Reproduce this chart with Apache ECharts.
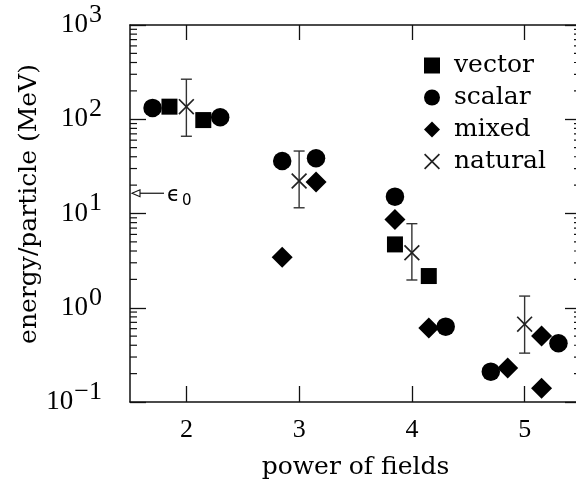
<!DOCTYPE html>
<html><head><meta charset="utf-8">
<script src="https://cdn.jsdelivr.net/npm/echarts@6/dist/echarts.min.js"></script>
<style>html,body{margin:0;padding:0;background:#fff}#c{width:576px;height:483px}</style>
</head><body><div id="c"></div>
<script>
// ---- data ----
const xTicks = [2, 3, 4, 5];
const yTicks = [0.1, 1, 10, 100, 1000];
const minorMantissas = [2, 3, 4, 5, 6, 7, 8, 9];
const minorDecades = [0.1, 1, 10, 100];

const vectorX = [1.85, 2.15, 3.85, 4.15];
const vectorY = [136, 98, 4.7, 2.17];
const scalarX = [1.7, 2.3, 2.85, 3.15, 3.85, 4.3, 4.7, 5.3];
const scalarY = [132, 105, 36, 38.5, 15.1, 0.63, 0.21, 0.42];
const mixedX = [2.85, 3.15, 3.85, 4.15, 4.85, 5.15, 5.15];
const mixedY = [3.43, 21.6, 8.66, 0.61, 0.23, 0.50, 0.14];
const naturalX = [2, 3, 4, 5];
const naturalY = [136, 22.1, 3.84, 0.67];
const naturalLo = [66, 11.5, 1.97, 0.33];
const naturalHi = [266, 46, 7.8, 1.33];
const eps0 = 16.4;
const xMin = 1.5, xMax = 5.5, yMin = 0.1, yMax = 1000;

// ---- build ----
const serifW = 'DejaVu Serif';
const serifN = 'Liberation Serif';
const ink = '#111';
const pts = (xs, ys) => xs.map((x, i) => [x, ys[i]]);
const minorVals = [];
minorDecades.forEach(d => minorMantissas.forEach(m => minorVals.push([xMin, +(d * m).toPrecision(3)])));
const xPath = 'path://M1.5,0 L10,8.5 L18.5,0 L20,1.5 L11.5,10 L20,18.5 L18.5,20 L10,11.5 L1.5,20 L0,18.5 L8.5,10 L0,1.5 Z';

const expLabel = v => {
  const e = Math.round(Math.log10(v));
  return '{b|10}{s|' + (e < 0 ? '\u2212' + (-e) : e) + '}';
};

const chart = echarts.init(document.getElementById('c'), null, {renderer: 'canvas'});
chart.setOption({
  animation: false,
  backgroundColor: '#fff',
  grid: {left: 130, top: 25, width: 451, height: 377, containLabel: false, outerBoundsMode: 'none'},
  legend: {
    orient: 'vertical', left: 419, top: 48, itemWidth: 16, itemHeight: 16, itemGap: 7,
    data: ['vector', 'scalar', 'mixed', 'natural'],
    textStyle: {fontFamily: serifW, fontSize: 25, color: '#000', lineHeight: 25, padding: [0, 0, 0, 9]},
    selectedMode: false
  },
  xAxis: [{
    type: 'value', min: xMin, max: xMax, position: 'bottom',
    name: 'power of fields', nameLocation: 'middle', nameGap: 53, nameMoveOverlap: false,
    nameTextStyle: {fontFamily: serifW, fontSize: 25, color: '#000'},
    axisLine: {show: true, lineStyle: {color: ink, width: 1.5}},
    axisTick: {inside: true, length: 16, customValues: xTicks, lineStyle: {color: ink, width: 1.3}},
    axisLabel: {customValues: xTicks, margin: 15, fontFamily: serifN, fontSize: 26, color: '#000'},
    splitLine: {show: false}
  }, {
    type: 'value', min: xMin, max: xMax, position: 'top',
    axisLine: {show: true, lineStyle: {color: ink, width: 1.5}},
    axisTick: {inside: true, length: 15, customValues: xTicks, lineStyle: {color: ink, width: 1.3}},
    axisLabel: {show: false}, splitLine: {show: false}
  }],
  yAxis: [{
    type: 'log', logBase: 10, min: yMin, max: yMax, position: 'left',
    name: 'energy/particle (MeV)', nameLocation: 'middle', nameGap: 88, nameRotate: 90, nameMoveOverlap: false,
    nameTextStyle: {fontFamily: serifW, fontSize: 25, color: '#000', padding: [0, 0, 0, 19]},
    axisLine: {show: true, lineStyle: {color: ink, width: 1.5}},
    axisTick: {inside: true, length: 16, lineStyle: {color: ink, width: 1.3}},
    axisLabel: {
      margin: 28, formatter: expLabel, color: '#000',
      rich: {
        b: {fontFamily: serifN, fontSize: 27, lineHeight: 27, verticalAlign: 'middle'},
        s: {fontFamily: serifN, fontSize: 26, lineHeight: 26, verticalAlign: 'middle', padding: [0, 0, 20, 1]}
      }
    },
    splitLine: {show: false}
  }, {
    type: 'log', logBase: 10, min: yMin, max: yMax, position: 'right',
    axisLine: {show: true, lineStyle: {color: ink, width: 1.5}},
    axisTick: {inside: true, length: 16, lineStyle: {color: ink, width: 1.3}},
    axisLabel: {show: false}, splitLine: {show: false}
  }],
  series: [
    {
      type: 'custom', name: 'minor', silent: true, clip: false, z: 1,
      data: minorVals,
      renderItem: (params, api) => {
        const v = api.value(1);
        const pL = api.coord([xMin, v]);
        const pR = api.coord([xMax, v]);
        const st = {stroke: ink, lineWidth: 1.2};
        return {type: 'group', children: [
          {type: 'line', shape: {x1: pL[0], y1: pL[1], x2: pL[0] + 7, y2: pL[1]}, style: st},
          {type: 'line', shape: {x1: pR[0] - 7, y1: pR[1], x2: pR[0], y2: pR[1]}, style: st}
        ]};
      }
    },
    {
      type: 'custom', name: 'eps', silent: true, clip: false, z: 3,
      data: [[xMin, eps0]],
      renderItem: (params, api) => {
        const p = api.coord([api.value(0), api.value(1)]);
        const tip = p[0] + 2, y = p[1];
        return {type: 'group', children: [
          {type: 'line', shape: {x1: tip + 8, y1: y, x2: tip + 32, y2: y}, style: {stroke: ink, lineWidth: 1.2}},
          {type: 'polygon', shape: {points: [[tip, y], [tip + 8, y - 3.5], [tip + 8, y + 3.5]]}, style: {fill: '#fff', stroke: ink, lineWidth: 1.1}},
          {type: 'text', style: {
            x: tip + 35, y: y + 2, verticalAlign: 'middle', text: '{e|\u03f5}{s|0}',
            rich: {
              e: {fontFamily: 'DejaVu Sans', fontSize: 21, fill: '#000', verticalAlign: 'middle'},
              s: {fontFamily: 'DejaVu Sans', fontSize: 15, fill: '#000', verticalAlign: 'middle', padding: [12, 0, 0, 2]}
            }
          }}
        ]};
      }
    },
    {
      type: 'custom', name: 'errorbars', silent: true, clip: false, z: 3,
      data: naturalX.map((x, i) => [x, naturalLo[i], naturalHi[i]]),
      encode: {x: 0, y: [1, 2]},
      renderItem: (params, api) => {
        const x = api.value(0);
        const lo = api.coord([x, api.value(1)]);
        const hi = api.coord([x, api.value(2)]);
        const st = {stroke: '#333', lineWidth: 1.4};
        const w = 5.5;
        return {type: 'group', children: [
          {type: 'line', shape: {x1: lo[0], y1: lo[1], x2: hi[0], y2: hi[1]}, style: st},
          {type: 'line', shape: {x1: lo[0] - w, y1: lo[1], x2: lo[0] + w, y2: lo[1]}, style: st},
          {type: 'line', shape: {x1: hi[0] - w, y1: hi[1], x2: hi[0] + w, y2: hi[1]}, style: st}
        ]};
      }
    },
    {type: 'scatter', name: 'vector', symbol: 'rect', symbolSize: 16, data: pts(vectorX, vectorY), itemStyle: {color: '#000', opacity: 1}, z: 4},
    {type: 'scatter', name: 'scalar', symbol: 'circle', symbolSize: 18.5, data: pts(scalarX, scalarY), itemStyle: {color: '#000', opacity: 1}, z: 4},
    {type: 'scatter', name: 'mixed', symbol: 'diamond', symbolSize: 21, data: pts(mixedX, mixedY), itemStyle: {color: '#000', opacity: 1}, z: 4},
    {type: 'scatter', name: 'natural', symbol: xPath, symbolSize: 16, data: pts(naturalX, naturalY), itemStyle: {color: '#222', opacity: 1}, z: 5}
  ]
});
</script>
</body></html>
